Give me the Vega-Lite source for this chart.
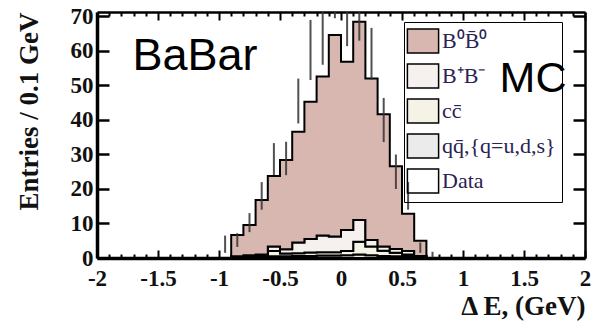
{
  "$schema": "https://vega.github.io/schema/vega-lite/v6.json",
  "width": 488,
  "height": 246,
  "autosize": {"type": "none"},
  "padding": {"left": 97, "top": 12, "right": 9, "bottom": 65},
  "background": "white",
  "config": {
    "view": {"stroke": null},
    "axis": {
      "grid": false,
      "labelFont": "Liberation Serif",
      "labelFontWeight": "bold",
      "labelFontSize": 23,
      "labelColor": "#111",
      "titleFont": "Liberation Serif",
      "titleFontWeight": "bold",
      "titleFontSize": 27,
      "titleColor": "#111",
      "domainColor": "black",
      "tickColor": "black",
      "labelFlush": false,
      "labelOverlap": false,
      "zindex": 1
    }
  },
  "datasets": {
    "mc": [
      {"dE": -0.9, "comp": "qq̄,{q=u,d,s}", "n": 0.2}, {"dE": -0.9, "comp": "cc̄", "n": 0.2}, {"dE": -0.9, "comp": "B⁺B⁻", "n": 0.1}, {"dE": -0.9, "comp": "B⁰B̄⁰", "n": 6.2},
      {"dE": -0.8, "comp": "qq̄,{q=u,d,s}", "n": 0.3}, {"dE": -0.8, "comp": "cc̄", "n": 0.3}, {"dE": -0.8, "comp": "B⁺B⁻", "n": 0.2}, {"dE": -0.8, "comp": "B⁰B̄⁰", "n": 8.8},
      {"dE": -0.7, "comp": "qq̄,{q=u,d,s}", "n": 0.3}, {"dE": -0.7, "comp": "cc̄", "n": 0.4}, {"dE": -0.7, "comp": "B⁺B⁻", "n": 0.3}, {"dE": -0.7, "comp": "B⁰B̄⁰", "n": 15.8},
      {"dE": -0.6, "comp": "qq̄,{q=u,d,s}", "n": 0.5}, {"dE": -0.6, "comp": "cc̄", "n": 1.5}, {"dE": -0.6, "comp": "B⁺B⁻", "n": 1.3}, {"dE": -0.6, "comp": "B⁰B̄⁰", "n": 20.5},
      {"dE": -0.5, "comp": "qq̄,{q=u,d,s}", "n": 0.5}, {"dE": -0.5, "comp": "cc̄", "n": 0.8}, {"dE": -0.5, "comp": "B⁺B⁻", "n": 1.2}, {"dE": -0.5, "comp": "B⁰B̄⁰", "n": 25.9},
      {"dE": -0.4, "comp": "qq̄,{q=u,d,s}", "n": 0.6}, {"dE": -0.4, "comp": "cc̄", "n": 0.8}, {"dE": -0.4, "comp": "B⁺B⁻", "n": 3.1}, {"dE": -0.4, "comp": "B⁰B̄⁰", "n": 32.1},
      {"dE": -0.3, "comp": "qq̄,{q=u,d,s}", "n": 0.6}, {"dE": -0.3, "comp": "cc̄", "n": 1.0}, {"dE": -0.3, "comp": "B⁺B⁻", "n": 3.9}, {"dE": -0.3, "comp": "B⁰B̄⁰", "n": 39.8},
      {"dE": -0.2, "comp": "qq̄,{q=u,d,s}", "n": 0.7}, {"dE": -0.2, "comp": "cc̄", "n": 1.0}, {"dE": -0.2, "comp": "B⁺B⁻", "n": 4.8}, {"dE": -0.2, "comp": "B⁰B̄⁰", "n": 46.1},
      {"dE": -0.1, "comp": "qq̄,{q=u,d,s}", "n": 0.7}, {"dE": -0.1, "comp": "cc̄", "n": 1.0}, {"dE": -0.1, "comp": "B⁺B⁻", "n": 4.5}, {"dE": -0.1, "comp": "B⁰B̄⁰", "n": 58.4},
      {"dE": 0.0, "comp": "qq̄,{q=u,d,s}", "n": 0.8}, {"dE": 0.0, "comp": "cc̄", "n": 1.2}, {"dE": 0.0, "comp": "B⁺B⁻", "n": 6.1}, {"dE": 0.0, "comp": "B⁰B̄⁰", "n": 48.8},
      {"dE": 0.1, "comp": "qq̄,{q=u,d,s}", "n": 1.0}, {"dE": 0.1, "comp": "cc̄", "n": 3.7}, {"dE": 0.1, "comp": "B⁺B⁻", "n": 6.3}, {"dE": 0.1, "comp": "B⁰B̄⁰", "n": 57.5},
      {"dE": 0.2, "comp": "qq̄,{q=u,d,s}", "n": 0.8}, {"dE": 0.2, "comp": "cc̄", "n": 2.5}, {"dE": 0.2, "comp": "B⁺B⁻", "n": 1.9}, {"dE": 0.2, "comp": "B⁰B̄⁰", "n": 46.8},
      {"dE": 0.3, "comp": "qq̄,{q=u,d,s}", "n": 0.6}, {"dE": 0.3, "comp": "cc̄", "n": 1.5}, {"dE": 0.3, "comp": "B⁺B⁻", "n": 1.2}, {"dE": 0.3, "comp": "B⁰B̄⁰", "n": 38.4},
      {"dE": 0.4, "comp": "qq̄,{q=u,d,s}", "n": 0.5}, {"dE": 0.4, "comp": "cc̄", "n": 1.0}, {"dE": 0.4, "comp": "B⁺B⁻", "n": 1.1}, {"dE": 0.4, "comp": "B⁰B̄⁰", "n": 24.0},
      {"dE": 0.5, "comp": "qq̄,{q=u,d,s}", "n": 0.4}, {"dE": 0.5, "comp": "cc̄", "n": 0.6}, {"dE": 0.5, "comp": "B⁺B⁻", "n": 1.0}, {"dE": 0.5, "comp": "B⁰B̄⁰", "n": 10.8},
      {"dE": 0.6, "comp": "qq̄,{q=u,d,s}", "n": 0.2}, {"dE": 0.6, "comp": "cc̄", "n": 0.2}, {"dE": 0.6, "comp": "B⁺B⁻", "n": 0.2}, {"dE": 0.6, "comp": "B⁰B̄⁰", "n": 4.4},
      {"dE": 0.7, "comp": "qq̄,{q=u,d,s}", "n": 0}, {"dE": 0.7, "comp": "cc̄", "n": 0}, {"dE": 0.7, "comp": "B⁺B⁻", "n": 0}, {"dE": 0.7, "comp": "B⁰B̄⁰", "n": 0}
    ],
    "obs": [
      {"dE": -0.95, "lo": 1.5, "hi": 6.5},
      {"dE": -0.85, "lo": 3.2, "hi": 7.2},
      {"dE": -0.75, "lo": 7.5, "hi": 13},
      {"dE": -0.65, "lo": 14, "hi": 22},
      {"dE": -0.55, "lo": 24, "hi": 33.3},
      {"dE": -0.45, "lo": 24, "hi": 33.7},
      {"dE": -0.35, "lo": 39, "hi": 52},
      {"dE": -0.25, "lo": 51.6, "hi": 69},
      {"dE": -0.15, "lo": 56, "hi": 72},
      {"dE": -0.05, "lo": 69.5, "hi": 86},
      {"dE": 0.05, "lo": 61.4, "hi": 78},
      {"dE": 0.15, "lo": 63, "hi": 72},
      {"dE": 0.25, "lo": 51.7, "hi": 66.7},
      {"dE": 0.35, "lo": 33.6, "hi": 46.4},
      {"dE": 0.45, "lo": 20, "hi": 30},
      {"dE": 0.55, "lo": 14, "hi": 22},
      {"dE": 0.65, "lo": 1.5, "hi": 4.5},
      {"dE": 0.75, "lo": 0.2, "hi": 1.8}
    ]
  },
  "layer": [
    {
      "data": {"name": "mc"},
      "mark": {"type": "area", "interpolate": "step-after", "stroke": "black", "strokeWidth": 2, "opacity": 1, "clip": true},
      "encoding": {
        "x": {
          "field": "dE", "type": "quantitative",
          "scale": {"domain": [-2, 2], "nice": false, "zero": false},
          "axis": {
            "orient": "bottom", "values": [-2, -1.5, -1, -0.5, 0, 0.5, 1, 1.5, 2],
            "labelExpr": "replace(format(datum.value, '~g'), '−', '-')",
            "tickSize": -8, "tickWidth": 2, "domainWidth": 3.5, "labelPadding": 17,
            "title": "Δ E, (GeV)", "titleAnchor": "end", "titlePadding": 3
          }
        },
        "y": {
          "field": "n", "type": "quantitative", "stack": "zero",
          "scale": {"domain": [0, 71.3], "nice": false},
          "axis": {
            "orient": "left", "values": [0, 10, 20, 30, 40, 50, 60, 70],
            "tickSize": -12, "tickWidth": 2.5, "domainWidth": 3.5, "labelPadding": 16,
            "title": "Entries / 0.1 GeV", "titleAnchor": "end", "titlePadding": 27
          }
        },
        "color": {
          "field": "comp", "type": "nominal",
          "scale": {
            "domain": ["B⁰B̄⁰", "B⁺B⁻", "cc̄", "qq̄,{q=u,d,s}", "Data"],
            "range": ["#d9b7b1", "#f6f1ef", "#f4f3e6", "#ebebeb", "transparent"]
          },
          "legend": {
            "title": null, "orient": "none", "legendX": 307, "legendY": 10, "direction": "vertical",
            "symbolType": "M-1.3,-1H1.3V1H-1.3Z", "symbolSize": 576,
            "labelFont": "Liberation Serif", "labelFontSize": 22, "labelColor": "#2b2255",
            "labelOffset": 6, "rowPadding": 5, "padding": 6,
            "strokeColor": "black",
            "encode": {
              "symbols": {
                "stroke": {"value": "#8a8a8a"},
                "strokeWidth": {"value": 2.5},
                "opacity": {"value": {"expr": "datum.label === 'Data' ? 0 : 1"}}
              }
            }
          }
        },
        "order": {"field": "comp", "sort": "descending"}
      }
    },
    {
      "data": {"name": "obs"},
      "mark": {"type": "rule", "strokeWidth": 2, "clip": true, "color": "#333333", "opacity": 0.85},
      "encoding": {
        "x": {
          "field": "dE", "type": "quantitative",
          "scale": {"domain": [-2, 2], "nice": false, "zero": false},
          "axis": {"orient": "top", "values": [-2, -1.5, -1, -0.5, 0, 0.5, 1, 1.5, 2], "labels": false, "tickSize": -8, "tickWidth": 2, "domainWidth": 2.5, "title": null}
        },
        "y": {
          "field": "lo", "type": "quantitative",
          "scale": {"domain": [0, 71.3], "nice": false},
          "axis": {"orient": "right", "values": [0, 10, 20, 30, 40, 50, 60, 70], "labels": false, "tickSize": -12, "tickWidth": 2.5, "domainWidth": 2.5, "title": null}
        },
        "y2": {"field": "hi"}
      }
    },
    {
      "data": {"values": [{"dE": -1.71, "n": 54.5, "label": "BaBar"}]},
      "mark": {"type": "text", "font": "Liberation Sans", "fontSize": 45, "align": "left", "baseline": "alphabetic", "color": "black"},
      "encoding": {
        "x": {
          "field": "dE", "type": "quantitative",
          "scale": {"domain": [-2, 2], "nice": false, "zero": false},
          "axis": {"orient": "bottom", "values": [-1.9,-1.8,-1.7,-1.6,-1.4,-1.3,-1.2,-1.1,-0.9,-0.8,-0.7,-0.6,-0.4,-0.3,-0.2,-0.1,0.1,0.2,0.3,0.4,0.6,0.7,0.8,0.9,1.1,1.2,1.3,1.4,1.6,1.7,1.8,1.9], "labels": false, "domain": false, "tickSize": -4, "tickWidth": 2, "title": null}
        },
        "y": {"field": "n", "type": "quantitative", "scale": {"domain": [0, 71.3], "nice": false}, "axis": null},
        "text": {"field": "label"}
      }
    },
    {
      "data": {"values": [{"dE": 1.3, "n": 48.1, "label": "MC"}]},
      "mark": {"type": "text", "font": "Liberation Sans", "fontSize": 43, "align": "left", "baseline": "alphabetic", "color": "black"},
      "encoding": {
        "x": {
          "field": "dE", "type": "quantitative",
          "scale": {"domain": [-2, 2], "nice": false, "zero": false},
          "axis": {"orient": "top", "values": [-1.9,-1.8,-1.7,-1.6,-1.4,-1.3,-1.2,-1.1,-0.9,-0.8,-0.7,-0.6,-0.4,-0.3,-0.2,-0.1,0.1,0.2,0.3,0.4,0.6,0.7,0.8,0.9,1.1,1.2,1.3,1.4,1.6,1.7,1.8,1.9], "labels": false, "domain": false, "tickSize": -4, "tickWidth": 2, "title": null}
        },
        "y": {"field": "n", "type": "quantitative", "scale": {"domain": [0, 71.3], "nice": false}, "axis": null},
        "text": {"field": "label"}
      }
    }
  ],
  "resolve": {"axis": {"x": "independent", "y": "independent"}}
}
